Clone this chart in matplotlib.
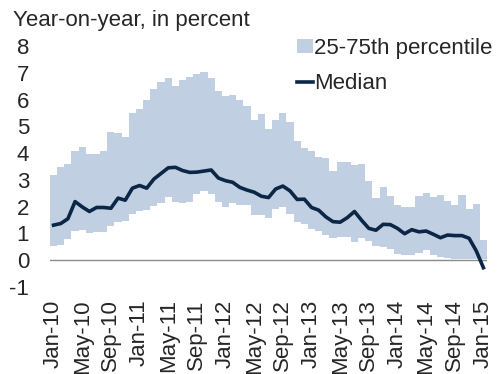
import numpy as np
import matplotlib
matplotlib.use("Agg")
import matplotlib.pyplot as plt
from matplotlib.patches import Patch
from matplotlib.lines import Line2D

plt.rcParams["font.family"] = ["Liberation Sans", "DejaVu Sans"]
plt.rcParams["axes.unicode_minus"] = False

# monthly, Jan-10 .. Jan-15
p75 = [3.20, 3.47, 3.60, 4.09, 4.21, 3.95, 3.95, 4.09, 4.80, 4.75,
       4.62, 5.48, 5.63, 5.98, 6.38, 6.65, 6.79, 6.50, 6.73, 6.83,
       6.95, 7.03, 6.79, 6.33, 6.14, 6.18, 6.00, 5.75, 5.25, 5.45,
       4.91, 5.25, 5.48, 5.16, 4.44, 4.20, 4.07, 3.87, 3.82, 3.35,
       3.65, 3.65, 3.57, 3.58, 2.97, 2.34, 2.74, 2.41, 2.05, 1.97,
       1.97, 2.41, 2.52, 2.37, 2.44, 2.22, 2.07, 2.44, 1.93, 2.10,
       0.75]
p25 = [0.53, 0.55, 0.78, 1.09, 1.12, 1.00, 1.04, 1.06, 1.27, 1.44,
       1.47, 1.74, 1.83, 1.87, 2.03, 2.12, 2.37, 2.16, 2.13, 2.17,
       2.47, 2.58, 2.47, 2.16, 1.97, 2.12, 2.07, 2.07, 1.68, 1.68,
       1.59, 1.90, 1.97, 1.72, 1.43, 1.34, 1.18, 1.09, 0.93, 0.82,
       0.86, 0.87, 0.69, 0.84, 0.72, 0.52, 0.49, 0.43, 0.25, 0.20,
       0.21, 0.27, 0.38, 0.21, 0.12, 0.09, 0.05, 0.06, 0.05, 0.05,
       0.04]
median = [1.31, 1.37, 1.55, 2.19, 1.99, 1.82, 1.97, 1.97, 1.94, 2.32,
          2.24, 2.69, 2.79, 2.69, 3.03, 3.24, 3.45, 3.47, 3.35, 3.28,
          3.29, 3.33, 3.37, 3.07, 2.97, 2.91, 2.72, 2.62, 2.54, 2.39,
          2.34, 2.66, 2.77, 2.59, 2.27, 2.28, 1.97, 1.87, 1.62, 1.44,
          1.42, 1.59, 1.82, 1.49, 1.19, 1.12, 1.34, 1.33, 1.19, 0.99,
          1.14, 1.06, 1.09, 0.97, 0.84, 0.94, 0.92, 0.92, 0.82, 0.35,
          -0.28]
tick_labels = ["Jan-10", "May-10", "Sep-10", "Jan-11", "May-11", "Sep-11",
               "Jan-12", "May-12", "Sep-12", "Jan-13", "May-13", "Sep-13",
               "Jan-14", "May-14", "Sep-14", "Jan-15"]

band_color = "#c0cfe2"
line_color = "#0c2646"
text_color = "#262626"
fs = 16

fig = plt.figure(figsize=(4.98, 3.74), dpi=100)
ax = fig.add_axes([50 / 498, 1 - 287 / 374, 437 / 498, 241 / 374])

n = len(median)
x = np.arange(n)
# each month is a flat block one slot wide
edges = np.arange(n + 1) - 0.5
ax.fill_between(edges, p25 + [p25[-1]], p75 + [p75[-1]], step="post",
                color=band_color, linewidth=0)
ax.axhline(0, color="#8c8c8c", linewidth=1.0)
ax.plot(x, median, color=line_color, linewidth=2.6, solid_joinstyle="round")

ax.set_xlim(-0.5, n - 0.5)
ax.set_ylim(-1, 8)
ax.set_yticks(range(-1, 9))
ax.set_xticks(x[::4])
ax.set_xticklabels(tick_labels, rotation=90)
ax.tick_params(axis="y", length=0, pad=15, labelsize=fs, labelcolor=text_color)
ax.tick_params(axis="x", length=0, pad=9, labelsize=fs, labelcolor=text_color)
for s in ax.spines.values():
    s.set_visible(False)

fig.text(13 / 498, 1 - 26 / 374, "Year-on-year, in percent", fontsize=fs,
         color=text_color, va="baseline", ha="left")

handles = [Patch(facecolor=band_color, edgecolor="none"),
           Line2D([], [], color=line_color, linewidth=2.6)]
fig.legend(handles, ["25-75th percentile", "Median"], loc="upper left",
           bbox_to_anchor=(297 / 498, 1 - 38 / 374), frameon=False,
           fontsize=fs, handlelength=0.7, handleheight=0.55,
           handletextpad=0.05, borderaxespad=0, borderpad=0,
           labelspacing=0.62, labelcolor=text_color)

fig.savefig("out.png", dpi=100)
